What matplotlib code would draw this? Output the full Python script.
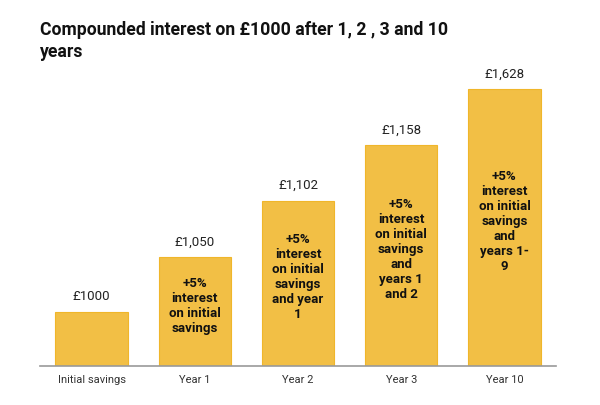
import matplotlib
matplotlib.use("Agg")
import matplotlib.pyplot as plt

categories = ["Initial savings", "Year 1", "Year 2", "Year 3", "Year 10"]
value_labels = ["£1000", "£1,050", "£1,102", "£1,158", "£1,628"]
# bar heights as drawn in the picture (equal steps, not to scale with values)
bar_heights = [1.0, 2.0, 3.03, 4.05, 5.08]
inside_labels = [
    "",
    "+5%\ninterest\non initial\nsavings",
    "+5%\ninterest\non initial\nsavings\nand year\n1",
    "+5%\ninterest\non initial\nsavings\nand\nyears 1\nand 2",
    "+5%\ninterest\non initial\nsavings\nand\nyears 1-\n9",
]
title = "Compounded interest on £1000 after 1, 2 , 3 and 10\nyears"

plt.rcParams['font.family'] = ['Roboto', 'DejaVu Sans']

fig = plt.figure(figsize=(6, 4.06), dpi=100)
ax = fig.add_axes([40/600, 1 - 367/406, 516/600, 307/406])

x = list(range(len(categories)))
bars = ax.bar(x, bar_heights, width=0.70, color='#F2BF45', edgecolor='#F0B62A', linewidth=0.8)

ax.set_xlim(-0.5, 4.5)
ax.set_ylim(0, 307/54.5)

for xi, h, vl, il in zip(x, bar_heights, value_labels, inside_labels):
    ax.annotate(vl, (xi, h), xytext=(0, 7), textcoords='offset points',
                ha='center', va='bottom', fontsize=9.5, color='#222222')
    if il:
        ax.annotate(il, (xi, h/2), xytext=(0, 5), textcoords='offset points',
                    ha='center', va='center', fontsize=9.5, fontweight='bold',
                    color='#111111', linespacing=1.2)

for s in ['top', 'right', 'left']:
    ax.spines[s].set_visible(False)
ax.spines['bottom'].set_color('#999999')
ax.spines['bottom'].set_linewidth(1.2)
ax.set_yticks([])
ax.set_xticks(x)
ax.set_xticklabels(categories, fontsize=8, color='#333333')
ax.tick_params(axis='x', length=0, pad=6)

fig.text(40/600, 1 - 21/406, title, ha='left', va='top', fontsize=12.7,
         fontweight='bold', color='#111111', linespacing=1.3)

fig.savefig("out.png", dpi=100)
